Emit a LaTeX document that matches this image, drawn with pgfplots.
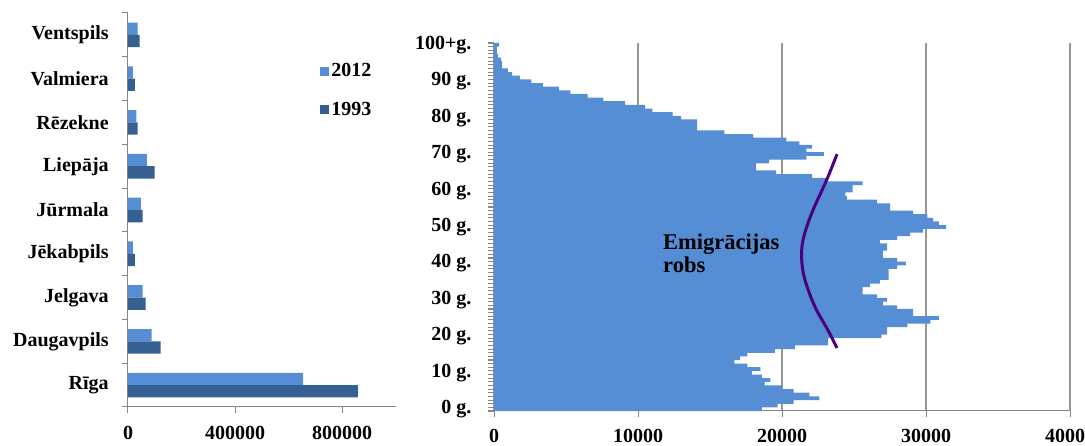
\documentclass[border=0pt]{standalone}
\usepackage{fontspec}
\setmainfont{Liberation Serif}
\usepackage{pgfplots}
\pgfplotsset{compat=1.18}
\usepackage{pgfplotstable}

\definecolor{barA}{RGB}{85,142,213}
\definecolor{barB}{RGB}{55,96,146}
\definecolor{axisgray}{RGB}{134,134,134}
\definecolor{gridgray}{RGB}{150,150,150}
\definecolor{robs}{RGB}{75,0,130}

\pgfplotstableread{
idx y2012 y1993
0 654500 859500
1 88200 121700
2 54600 65800
3 18600 26000
4 48400 54600
5 70800 99400
6 31000 36000
7 18600 26000
8 36000 43500
}\cities

\pgfplotstableread{
age val
0 18600
1 19700
2 20800
3 22600
4 21900
5 20800
6 20000
7 18800
8 19200
9 18600
10 17900
11 18500
12 17600
13 16700
14 17100
15 17600
16 19500
17 20900
18 23200
19 23200
20 26900
21 27300
22 27300
23 28700
24 30300
25 30900
26 29100
27 29100
28 28000
29 27000
30 27300
31 26600
32 25600
33 25600
34 26100
35 26800
36 27400
37 27400
38 27400
39 28000
40 28600
41 28000
42 27000
43 27000
44 27300
45 27300
46 26800
47 28000
48 28900
49 29800
50 31400
51 30900
52 30500
53 30100
54 29100
55 27500
56 27500
57 26600
58 24500
59 24400
60 24900
61 24900
62 25600
63 23100
64 22100
65 19600
66 18200
67 18200
68 19100
69 21700
70 22900
71 21700
72 22100
73 21200
74 20300
75 18000
76 16000
77 14100
78 14100
79 14100
80 13000
81 12400
82 11000
83 10500
84 9100
85 7600
86 6500
87 5300
88 4500
89 3400
90 2600
91 1800
92 1250
93 970
94 560
95 560
96 490
97 280
98 200
99 200
100 350
}\pyramid

\begin{document}
\begin{tikzpicture}
\useasboundingbox (0,0) rectangle (1085pt,446pt);
\pgfplotsset{
  commonstyle/.style={
    scale only axis,
    anchor=south west,
    clip=false,
    axis lines*=left,
    axis line style={-, draw=axisgray, line width=1pt},
    tick align=outside,
    major tick length=6pt,
    tick style={draw=axisgray, line width=1pt},
    scaled x ticks=false,
    ticklabel style={font=\bfseries\fontsize{20}{22}\selectfont, text=black},
  }
}
\begin{axis}[commonstyle,
  at={(128pt,39pt)}, width=267.5pt, height=394pt,
  xmin=0, xmax=1000000, ymin=-0.5, ymax=8.5,
  xtick={0,400000,800000},
  xticklabels={0,400000,800000},
  ytick={-0.5,0.5,...,8.5},
  yticklabels={Rīga,Daugavpils,Jelgava,Jēkabpils,Jūrmala,Liepāja,Rēzekne,Valmiera,Ventspils,{}},
  xticklabel style={yshift=-10pt},
  yticklabel style={xshift=-9.8pt, yshift=21.89pt},
  legend style={at={(0.718,0.877)}, anchor=north west, draw=none, fill=none,
    font=\bfseries\fontsize{20}{22}\selectfont, row sep=20pt, inner sep=0pt},
  legend cell align=left,
]
\addplot[xbar, bar width=12.3pt, bar shift=6.15pt, fill=barA, draw=none,
  legend image code/.code={\fill[barA] (0pt,-4.5pt) rectangle (9pt,4.5pt);}]
  table[x=y2012, y=idx]{\cities};
\addlegendentry{2012}
\addplot[xbar, bar width=12.3pt, bar shift=-6.15pt, fill=barB, draw=none,
  legend image code/.code={\fill[barB] (0pt,-4.5pt) rectangle (9pt,4.5pt);}]
  table[x=y1993, y=idx]{\cities};
\addlegendentry{1993}
\pgfplotsinvokeforeach{-0.5,0.5,...,8.5}{
  \draw[axisgray, line width=1pt] (axis cs:0,#1) -- ++(-6pt,0pt);}
\pgfplotsinvokeforeach{0,400000,800000}{
  \draw[axisgray, line width=1pt] (axis cs:#1,-0.5) -- ++(0pt,-6pt);}
\end{axis}

\begin{axis}[commonstyle,
  at={(494pt,35pt)}, width=576pt, height=368pt,
  xmin=0, xmax=40000, ymin=-0.5, ymax=100.5,
  xtick={0,10000,20000,30000,40000},
  xticklabels={0,10000,20000,30000,40000},
  xmajorgrids, major grid style={draw=gridgray, line width=1.5pt},
  ytick={-0.5,0.5,...,100.5},
  yticklabel={\pgfmathtruncatemacro\tn{\ticknum}\pgfmathtruncatemacro\tm{mod(\tn,10)}\ifnum\tm=0 \ifnum\tn=100 100+g.\else\tn\ g.\fi\fi},
  xticklabel style={yshift=-8.5pt},
  yticklabel style={xshift=-13pt, yshift=1.822pt},
]
\addplot[xbar, bar width=3.75pt, bar shift=0pt, fill=barA, draw=none]
  table[x=val, y=age]{\pyramid};
\addplot[robs, line width=3pt, smooth, tension=0.6] coordinates {
  (23820,70.0) (23100,62.9) (22060,53.75) (21460,46.4) (21370,40.9)
  (21600,35.4) (22290,28.1) (23190,21.7) (23820,16.8)};
\node[anchor=base west, inner sep=0pt, font=\bfseries\fontsize{22.5}{24}\selectfont]
  at (axis cs:11736,43.7) {Emigrācijas};
\node[anchor=base west, inner sep=0pt, font=\bfseries\fontsize{22.5}{24}\selectfont]
  at (axis cs:11736,37.4) {robs};
\pgfplotsinvokeforeach{-0.5,0.5,...,100.5}{
  \draw[axisgray, line width=0.9pt] (axis cs:0,#1) -- ++(-6pt,0pt);}
\pgfplotsinvokeforeach{0,10000,20000,30000,40000}{
  \draw[axisgray, line width=1pt] (axis cs:#1,-0.5) -- ++(0pt,-6pt);}
\end{axis}
\end{tikzpicture}
\end{document}
